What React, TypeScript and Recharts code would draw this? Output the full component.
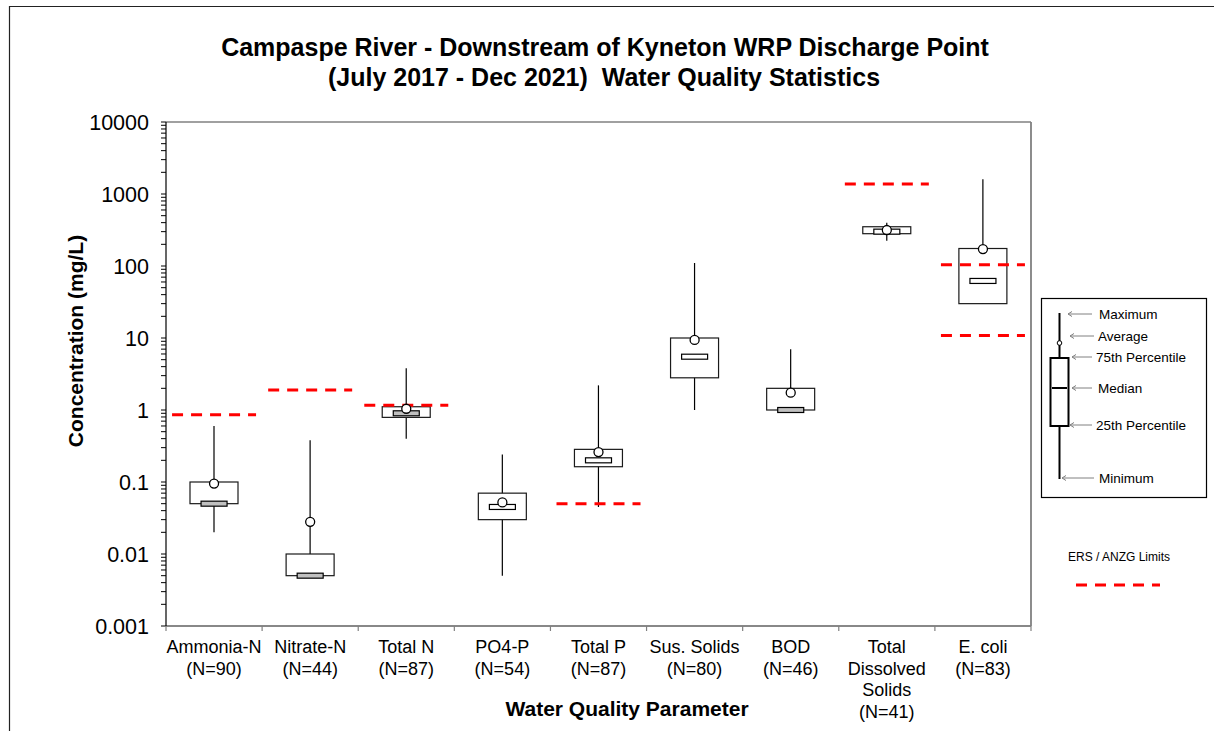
import React from "react";
import { ComposedChart, Bar, Scatter, XAxis, YAxis, CartesianGrid } from "recharts";

// parameter names ("\n" marks a line break in the axis label) and sample counts
const categories = [
  "Ammonia-N",
  "Nitrate-N",
  "Total N",
  "PO4-P",
  "Total P",
  "Sus. Solids",
  "BOD",
  "Total\nDissolved\nSolids",
  "E. coli",
];
const sampleCounts = [90, 44, 87, 54, 87, 80, 46, 41, 83];

// statistics (mg/L, E. coli in org/100mL)
const minimum = [0.02, 0.005, 0.4, 0.005, 0.045, 1, 1, 225, 30];
const percentile25 = [0.05, 0.005, 0.79, 0.03, 0.163, 2.8, 1, 281, 30];
const median = [0.05, 0.005, 0.9, 0.045, 0.2, 5.5, 1.0, 300, 62];
const percentile75 = [0.1, 0.01, 1.11, 0.07, 0.284, 10, 2.0, 351, 175];
const maximum = [0.6, 0.38, 3.8, 0.24, 2.2, 110, 7.0, 400, 1600];
const average = [0.095, 0.028, 1.04, 0.052, 0.26, 9.4, 1.74, 316, 172];

// ERS / ANZG limits (E. coli has two)
const limitUpper = [0.86, 1.9, 1.16, null, 0.05, null, null, 1380, 104];
const limitLower = [null, null, null, null, null, null, null, null, 10.8];

const decadeTicks = [0.001, 0.01, 0.1, 1, 10, 100, 1000, 10000];
const decadeLabels = ["0.001", "0.01", "0.1", "1", "10", "100", "1000", "10000"];

const FONT = "'Liberation Sans', Arial, sans-serif";
const GRID = "#808080";
const RED = "#ff0000";
const SHADED_MEDIANS = new Set(["Ammonia-N", "Nitrate-N", "Total N", "BOD"]);

const minorTicks = decadeTicks
  .slice(0, -1)
  .flatMap((d) => [2, 3, 4, 5, 6, 7, 8, 9].map((k) => Number((d * k).toPrecision(3))));
const leftTicks = [...decadeTicks, ...minorTicks].sort((a, b) => a - b);

const data = categories.map((name, i) => ({
  name,
  n: sampleCounts[i],
  whisker: [minimum[i], maximum[i]],
  box: [percentile25[i], percentile75[i]],
  median: median[i],
  average: average[i],
  limitUpper: limitUpper[i],
  limitLower: limitLower[i],
}));

const WhiskerShape = (p: any) => {
  const cx = p.x + p.width / 2;
  const top = Math.min(p.y, p.y + p.height);
  return <line x1={cx} x2={cx} y1={top} y2={top + Math.abs(p.height)} stroke="#000" strokeWidth={1.2} />;
};

const BoxShape = (p: any) => (
  <rect
    x={p.x}
    y={Math.min(p.y, p.y + p.height)}
    width={p.width}
    height={Math.abs(p.height)}
    fill="#fff"
    stroke="#1a1a1a"
    strokeWidth={1.2}
  />
);

const MedianShape = (p: any) => {
  if (!Number.isFinite(p.cy)) return <g />;
  const shaded = SHADED_MEDIANS.has(p.payload?.name);
  return (
    <rect
      x={p.cx - 13}
      y={p.cy - 2.5}
      width={26}
      height={5}
      fill={shaded ? "#c0c0c0" : "#fff"}
      stroke="#000"
      strokeWidth={1.2}
    />
  );
};

const AverageShape = (p: any) => {
  if (!Number.isFinite(p.cy)) return <g />;
  return <circle cx={p.cx} cy={p.cy} r={4.5} fill="#fff" stroke="#000" strokeWidth={1.3} />;
};

const limitShape = (key: string) => (p: any) => {
  if (p.payload?.[key] == null || !Number.isFinite(p.cy)) return <g />;
  return (
    <line
      x1={p.cx - 42}
      x2={p.cx + 42}
      y1={p.cy}
      y2={p.cy}
      stroke={RED}
      strokeWidth={3}
      strokeDasharray="11 8"
    />
  );
};

const LeftTick = (p: any) => {
  const idx = decadeTicks.indexOf(p.payload.value);
  if (idx < 0) return <g />;
  return (
    <text x={p.x} y={p.y} dy="0.36em" textAnchor="end" fontSize={21.5} fontFamily={FONT} fill="#000">
      {decadeLabels[idx]}
    </text>
  );
};

const CategoryTick = (p: any) => {
  const half = p.payload.offset ?? 48;
  const row = data[p.index];
  const lines = [...String(p.payload.value).split("\n"), `(N=${row ? row.n : ""})`];
  const isLast = p.index === data.length - 1;
  return (
    <g>
      <line x1={p.x - half} x2={p.x - half} y1={p.y} y2={p.y + 5} stroke={GRID} strokeWidth={1.2} />
      {isLast && <line x1={p.x + half} x2={p.x + half} y1={p.y} y2={p.y + 5} stroke={GRID} strokeWidth={1.2} />}
      <text textAnchor="middle" fontSize={18} fontFamily={FONT} fill="#000">
        {lines.map((t, i) => (
          <tspan key={i} x={p.x} y={p.y + 27 + i * 21.5}>
            {t}
          </tspan>
        ))}
      </text>
    </g>
  );
};

const legendRows = [
  { label: "Maximum", y: 314, x1: 1068, x2: 1092, tx: 1099 },
  { label: "Average", y: 336, x1: 1070, x2: 1094, tx: 1098 },
  { label: "75th Percentile", y: 357, x1: 1072, x2: 1092, tx: 1096 },
  { label: "Median", y: 388, x1: 1072, x2: 1092, tx: 1098 },
  { label: "25th Percentile", y: 425, x1: 1070, x2: 1092, tx: 1096 },
  { label: "Minimum", y: 478, x1: 1062, x2: 1094, tx: 1099 },
];

export default function App() {
  return (
    <div style={{ position: "absolute", left: 0, top: 0, width: 1214, height: 731, background: "#fff" }}>
      <ComposedChart
        width={1214}
        height={731}
        data={data}
        margin={{ top: 122, right: 173, bottom: 0, left: 96 }}
      >
        <CartesianGrid yAxisId="r" vertical={false} stroke={GRID} strokeWidth={1.3} />
        <XAxis
          dataKey="name"
          interval={0}
          height={105}
          tickSize={0}
          tickMargin={0}
          tickLine={false}
          axisLine={{ stroke: GRID, strokeWidth: 1.5 }}
          tick={<CategoryTick />}
        />
        <XAxis xAxisId="w" dataKey="name" hide />
        <YAxis
          scale="log"
          domain={[0.001, 10000]}
          allowDataOverflow
          ticks={leftTicks}
          interval={0}
          width={70}
          tickSize={5}
          tickMargin={12}
          tickLine={{ stroke: "#000" }}
          axisLine={{ stroke: "#000", strokeWidth: 1.2 }}
          tick={<LeftTick />}
        />
        <YAxis
          yAxisId="r"
          orientation="right"
          scale="log"
          domain={[0.001, 10000]}
          allowDataOverflow
          ticks={decadeTicks}
          interval={0}
          width={10}
          tickSize={4}
          tick={false}
          tickLine={{ stroke: GRID }}
          axisLine={{ stroke: GRID, strokeWidth: 1.8 }}
        />
        <Bar xAxisId="w" dataKey="whisker" barSize={2} shape={WhiskerShape} isAnimationActive={false} />
        <Bar dataKey="box" barSize={48} shape={BoxShape} isAnimationActive={false} />
        <Scatter dataKey="median" shape={MedianShape} isAnimationActive={false} />
        <Scatter dataKey="limitUpper" shape={limitShape("limitUpper")} isAnimationActive={false} />
        <Scatter dataKey="limitLower" shape={limitShape("limitLower")} isAnimationActive={false} />
        <Scatter dataKey="average" shape={AverageShape} isAnimationActive={false} />
      </ComposedChart>

      <svg
        width={1214}
        height={731}
        style={{ position: "absolute", left: 0, top: 0, pointerEvents: "none" }}
        fontFamily={FONT}
      >
        <line x1={9.5} x2={9.5} y1={6} y2={731} stroke="#222" strokeWidth={1.2} />
        <line x1={9} x2={1214} y1={6.5} y2={6.5} stroke="#222" strokeWidth={1.2} />

        <text x={605} y={56} textAnchor="middle" fontSize={25} fontWeight="bold">
          Campaspe River - Downstream of Kyneton WRP Discharge Point
        </text>
        <text x={604} y={86} textAnchor="middle" fontSize={25} fontWeight="bold" style={{ whiteSpace: "pre" }}>
          {"(July 2017 - Dec 2021)  Water Quality Statistics"}
        </text>

        <text
          transform="translate(83, 341) rotate(-90)"
          textAnchor="middle"
          fontSize={21}
          fontWeight="bold"
        >
          Concentration (mg/L)
        </text>
        <text x={627} y={716} textAnchor="middle" fontSize={21} fontWeight="bold">
          Water Quality Parameter
        </text>

        <rect x={1041.5} y={298.5} width={165} height={199} fill="#fff" stroke="#000" strokeWidth={1.2} />
        <line x1={1059.5} x2={1059.5} y1={313} y2={479} stroke="#000" strokeWidth={2} />
        <rect x={1050.5} y={358} width={18} height={68} fill="#fff" stroke="#000" strokeWidth={2} />
        <line x1={1052} x2={1067} y1={388} y2={388} stroke="#000" strokeWidth={2} />
        <circle cx={1059.5} cy={343} r={2.3} fill="#fff" stroke="#000" strokeWidth={1} />
        {legendRows.map((r) => (
          <g key={r.label}>
            <line x1={r.x1} x2={r.x2} y1={r.y} y2={r.y} stroke={GRID} strokeWidth={1} />
            <polyline
              points={`${r.x1 + 4},${r.y - 2.5} ${r.x1},${r.y} ${r.x1 + 4},${r.y + 2.5}`}
              fill="none"
              stroke={GRID}
              strokeWidth={1}
            />
            <text x={r.tx} y={r.y} dy="0.35em" fontSize={13.5} fill="#000">
              {r.label}
            </text>
          </g>
        ))}

        <text x={1068} y={557} dy="0.35em" fontSize={12} fill="#000">
          ERS / ANZG Limits
        </text>
        <line x1={1076} x2={1160} y1={585} y2={585} stroke={RED} strokeWidth={3} strokeDasharray="11 8" />
      </svg>
    </div>
  );
}
